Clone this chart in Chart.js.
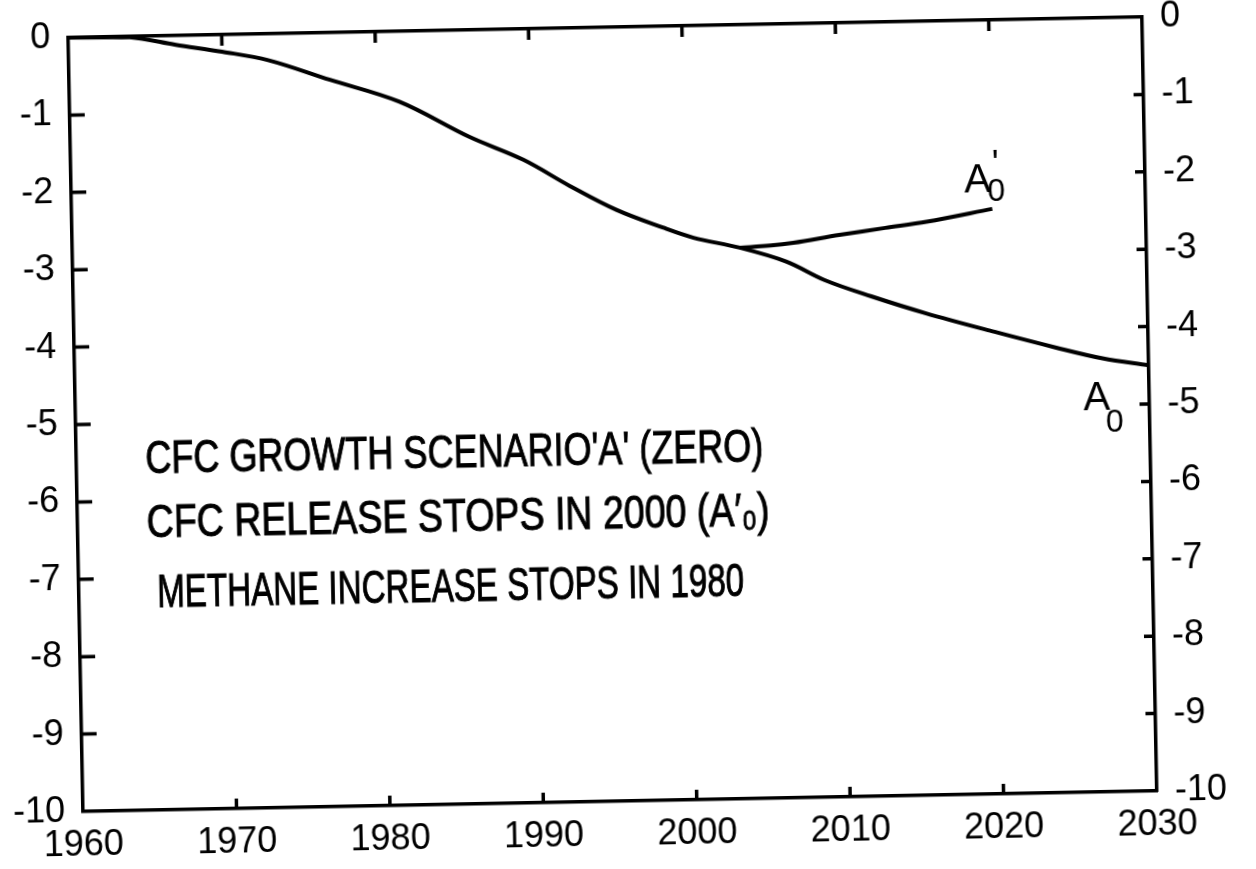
<!DOCTYPE html>
<html>
<head>
<meta charset="utf-8">
<script src="https://cdn.jsdelivr.net/npm/chart.js@4.4.0/dist/chart.umd.min.js"></script>
<style>
  html, body { margin: 0; padding: 0; background: #fff; overflow: hidden; }
  /* the scanned sheet sits a little crooked */
  #wrap { width: 1256px; height: 869px; transform: rotate(-1.1deg); transform-origin: 628px 434.5px; }
</style>
</head>
<body>
<div id="wrap"><canvas id="myChart" width="1256" height="869"></canvas></div>
<script>
const xTicks = [1960, 1970, 1980, 1990, 2000, 2010, 2020, 2030];
const yTicks = [0, -1, -2, -3, -4, -5, -6, -7, -8, -9, -10];

// A0 : zero CFC growth
const yearsA0 = [1960, 1964, 1967, 1970, 1973, 1977, 1981.5, 1986, 1989.5, 1992.5, 1995.5, 1998.5, 2000.5, 2003.5, 2006.5, 2009, 2012, 2015.5, 2020, 2024, 2027, 2030];
const valuesA0 = [0, -0.01, -0.12, -0.22, -0.34, -0.61, -0.91, -1.38, -1.69, -2.04, -2.36, -2.6, -2.74, -2.88, -3.07, -3.32, -3.54, -3.77, -4.03, -4.25, -4.4, -4.5];

// A0' : CFC release stops in 2000
const yearsA0p = [2003.5, 2005.5, 2007, 2010, 2013, 2015.7, 2020];
const valuesA0p = [-2.88, -2.86, -2.83, -2.74, -2.66, -2.59, -2.44];

const noteLines = [
  "CFC GROWTH SCENARIO'A' (ZERO)",
  "CFC RELEASE STOPS IN 2000 (A\u2032\u2080)",
  "METHANE INCREASE STOPS IN 1980",
];

Chart.defaults.font.family = "'Liberation Sans Narrow', 'Liberation Sans', sans-serif";
Chart.defaults.font.size = 36;
Chart.defaults.color = "#000";

const toPoints = (xs, ys) => xs.map((x, i) => ({ x: x, y: ys[i] }));

// keep the plot box where the hand drawn frame is, labels may hang over
const noPad = s => {
  s.paddingTop = 0;
  s.paddingBottom = 0;
  s.paddingLeft = 0;
  s.paddingRight = 0;
};

// tick marks drawn into the plot, like the hand drawn frame
const inwardTicks = {
  id: "inwardTicks",
  afterDraw(chart) {
    const { ctx, chartArea: a, scales } = chart;
    ctx.save();
    ctx.strokeStyle = "#000";
    ctx.lineWidth = 3.5;
    ctx.beginPath();
    yTicks.slice(1, -1).forEach(v => {
      const py = scales.y.getPixelForValue(v);
      ctx.moveTo(a.left, py);
      ctx.lineTo(a.left + 15, py);
      ctx.moveTo(a.right, py);
      ctx.lineTo(a.right - 10, py);
    });
    xTicks.slice(1, -1).forEach(v => {
      const px = scales.x.getPixelForValue(v);
      ctx.moveTo(px, a.bottom);
      ctx.lineTo(px, a.bottom - 10);
      ctx.moveTo(px, a.top);
      ctx.lineTo(px, a.top + 11);
    });
    ctx.stroke();
    ctx.restore();
  },
};

const notes = {
  id: "notes",
  afterDraw(chart) {
    const { ctx, scales: { x, y } } = chart;
    ctx.save();
    ctx.fillStyle = "#000";
    ctx.strokeStyle = "#000";
    ctx.lineWidth = 1;
    ctx.textBaseline = "alphabetic";
    ctx.font = "46px 'Liberation Sans', sans-serif";
    const spots = [[1964.5, -5.65, 618], [1964.5, -6.47, 623], [1965.1, -7.38, 587]];
    noteLines.forEach((t, i) => {
      const s = spots[i];
      const px = x.getPixelForValue(s[0]);
      const py = y.getPixelForValue(s[1]);
      ctx.fillText(t, px, py, s[2]);
      ctx.strokeText(t, px, py, s[2]);
    });

    // curve names
    const names = [
      { yr: 2018.2, v: -2.22, dx: 23, dy: 9, prime: true },
      { yr: 2025.7, v: -5.06, dx: 22, dy: 22, prime: false },
    ];
    names.forEach(n => {
      const px = x.getPixelForValue(n.yr);
      const py = y.getPixelForValue(n.v);
      ctx.font = "40px 'Liberation Sans', sans-serif";
      ctx.fillText("A", px, py);
      ctx.font = "32px 'Liberation Sans', sans-serif";
      ctx.fillText("0", px + n.dx, py + n.dy);
      if (n.prime) {
        ctx.font = "36px 'Liberation Sans', sans-serif";
        ctx.fillText("'", px + n.dx + 5, py - 16);
      }
    });
    ctx.restore();
  },
};

const ctx = document.getElementById("myChart");
new Chart(ctx, {
  type: "line",
  data: {
    datasets: [
      { label: "A0", data: toPoints(yearsA0, valuesA0), xAxisID: "x", yAxisID: "y" },
      { label: "A0'", data: toPoints(yearsA0p, valuesA0p), xAxisID: "x", yAxisID: "y" },
    ],
  },
  options: {
    responsive: false,
    animation: false,
    layout: { padding: 0 },
    elements: {
      line: { borderColor: "#000", borderWidth: 4, tension: 0.35, fill: false },
      point: { radius: 0 },
    },
    scales: {
      x: {
        type: "linear",
        position: "bottom",
        min: 1960,
        max: 2030,
        afterBuildTicks: s => { s.ticks = xTicks.map(v => ({ value: v })); },
        afterFit: s => { s.height = 68; noPad(s); },
        ticks: { padding: 12, callback: v => String(v) },
        grid: { drawOnChartArea: false, drawTicks: false },
        border: { display: true, width: 3.5, color: "#000" },
      },
      xTop: {
        type: "linear",
        position: "top",
        min: 1960,
        max: 2030,
        afterFit: s => { s.height = 27; noPad(s); },
        ticks: { display: false },
        grid: { drawOnChartArea: false, drawTicks: false },
        border: { display: true, width: 3.5, color: "#000" },
      },
      y: {
        type: "linear",
        position: "left",
        min: -10,
        max: 0,
        afterBuildTicks: s => { s.ticks = yTicks.map(v => ({ value: v })); },
        afterFit: s => { s.width = 76; noPad(s); },
        ticks: { padding: 18, callback: v => String(v) },
        grid: { drawOnChartArea: false, drawTicks: false },
        border: { display: true, width: 3.5, color: "#000" },
      },
      yRight: {
        type: "linear",
        position: "right",
        min: -10,
        max: 0,
        afterBuildTicks: s => { s.ticks = yTicks.map(v => ({ value: v })); },
        afterFit: s => { s.width = 106; noPad(s); },
        ticks: { padding: 18, callback: v => String(v) },
        grid: { drawOnChartArea: false, drawTicks: false },
        border: { display: true, width: 3.5, color: "#000" },
      },
    },
    plugins: {
      legend: { display: false },
      title: { display: false },
      tooltip: { enabled: false },
    },
  },
  plugins: [inwardTicks, notes],
});
</script>
</body>
</html>
